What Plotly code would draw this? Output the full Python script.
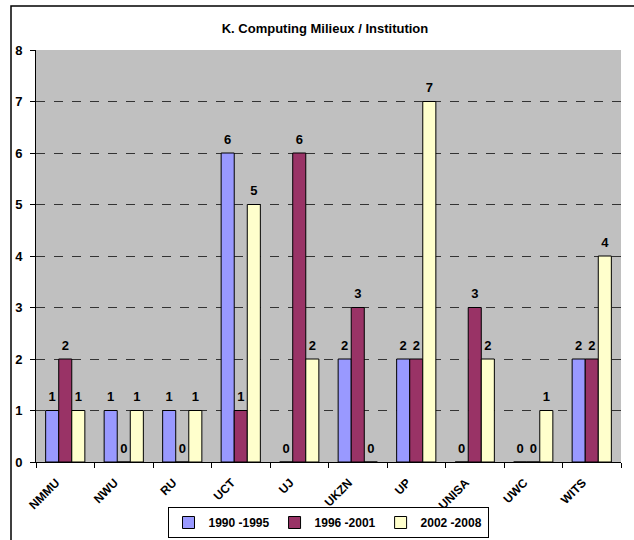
import plotly.graph_objects as go

categories = ["NMMU", "NWU", "RU", "UCT", "UJ", "UKZN", "UP", "UNISA", "UWC", "WITS"]
series_names = ["1990 -1995", "1996 -2001", "2002 -2008"]
s1990 = [1, 1, 1, 6, 0, 2, 2, 0, 0, 2]
s1996 = [2, 0, 0, 1, 6, 3, 2, 3, 0, 2]
s2002 = [1, 1, 1, 5, 2, 0, 7, 2, 1, 4]
colors = ["#9999FF", "#993366", "#FFFFCC"]
y_ticks = [0, 1, 2, 3, 4, 5, 6, 7, 8]

FONT = "Liberation Sans, Arial, sans-serif"
W, H = 634, 540
L, R, T, B = 36, 13, 50, 78
PW = W - L - R
PH = H - T - B
GAP = 0.33

fig = go.Figure()
for name, vals, col in zip(series_names, [s1990, s1996, s2002], colors):
    fig.add_trace(go.Bar(
        x=categories, y=vals, name=name,
        marker=dict(color=col, line=dict(color="black", width=1)),
    ))
# value labels (grouped like the bars)
for name, vals in zip(series_names, [s1990, s1996, s2002]):
    fig.add_trace(go.Scatter(
        x=categories, y=vals, mode="markers+text", showlegend=False, hoverinfo="skip",
        marker=dict(size=8, opacity=0), cliponaxis=False,
        text=[str(v) for v in vals], textposition="top center",
        textfont=dict(family=FONT, size=13, color="black", weight="bold"),
    ))

fig.update_layout(
    width=W, height=H,
    margin=dict(l=L, r=R, t=T, b=B, autoexpand=False),
    paper_bgcolor="white", plot_bgcolor="#C0C0C0",
    barmode="group", bargap=GAP, bargroupgap=0,
    scattermode="group", scattergap=GAP,
    title=dict(text="K. Computing Milieux / Institution", x=325 / W, xref="container",
               xanchor="center", y=1 - 28 / H, yanchor="middle",
               font=dict(family=FONT, size=13, color="black", weight="bold")),
    showlegend=True,
    legend=dict(orientation="h", xref="container", yref="container",
                x=328 / W, xanchor="center", y=2 / H, yanchor="bottom",
                bordercolor="black", borderwidth=1, bgcolor="white",
                font=dict(family=FONT, size=12, color="black", weight="bold"),
                itemwidth=30, tracegroupgap=0),
    font=dict(family=FONT, color="black"),
)
fig.update_xaxes(
    type="category", showline=True, linecolor="black", linewidth=1,
    ticks="outside", tickson="boundaries", ticklen=5, tickcolor="black",
    tickangle=-45, ticklabelstandoff=8, ticklabelshift=-9,
    tickfont=dict(family=FONT, size=12, color="black", weight="bold"),
    showgrid=False, automargin=False,
)
fig.update_yaxes(
    range=[0, 8], tickvals=y_ticks, showline=True, linecolor="black", linewidth=1,
    ticks="outside", ticklen=5, tickcolor="black", ticklabelstandoff=5,
    tickfont=dict(family=FONT, size=13, color="black", weight="bold"),
    showgrid=True, gridcolor="#333333", griddash="dash", gridwidth=1,
    zeroline=False, automargin=False,
)
fig.add_shape(type="rect", xref="paper", yref="paper",
              x0=(11 - L) / PW, x1=(660 - L) / PW,
              y0=(T + PH - 560) / PH, y1=(T + PH - 6) / PH,
              line=dict(color="black", width=1.5), fillcolor="rgba(0,0,0,0)", layer="below")
fig.write_html("out.html", config={"displayModeBar": False},
               post_script="document.body.style.margin='0';document.body.style.overflow='hidden';")
